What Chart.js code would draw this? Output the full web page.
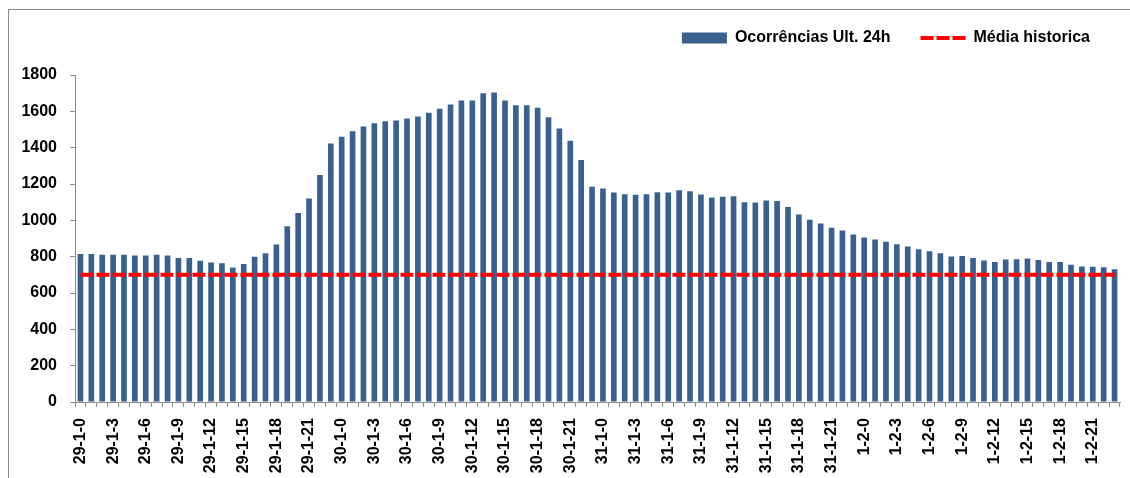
<!DOCTYPE html>
<html>
<head>
<meta charset="utf-8">
<title>Ocorrências Ult. 24h</title>
<script src="https://cdn.jsdelivr.net/npm/chart.js@4.4.0/dist/chart.umd.min.js"></script>
<style>
  body { margin: 0; background: #fff; }
  #wrap { position: relative; width: 1130px; height: 478px; }
  #moldura {
    position: absolute; left: 8px; top: 9px; right: 0; bottom: 0;
    border-top: 1px solid #8a8a8a; border-left: 1px solid #8a8a8a;
    pointer-events: none;
  }
</style>
</head>
<body>
<div id="wrap">
  <canvas id="grafico" width="1130" height="478"></canvas>
  <div id="moldura"></div>
</div>
<script>
// dias do período, uma barra por hora
const dias = ['29-1', '30-1', '31-1', '1-2'];
const categorias = [];
dias.forEach(d => {
  for (let h = 0; h < 24; h++) categorias.push(d + '-' + h);
});

const ocorrencias = [
  814, 814, 810, 810, 810, 806, 806, 810, 806, 793, 792, 777, 768, 764, 740, 759,
  799, 819, 867, 968, 1040, 1120, 1249, 1423,
  1460, 1491, 1517, 1535, 1545, 1550, 1561, 1572, 1592, 1614, 1637, 1659, 1659, 1699, 1704, 1660,
  1633, 1633, 1620, 1567, 1506, 1438, 1332, 1185,
  1175, 1153, 1144, 1141, 1144, 1155, 1153, 1166, 1160, 1142, 1126, 1130, 1133, 1100, 1098, 1109,
  1106, 1073, 1032, 1003, 983, 959, 944, 922,
  906, 894, 882, 869, 856, 841, 830, 819, 801, 804, 792, 779, 770, 784, 786, 790,
  781, 770, 770, 755, 746, 744, 742, 731
];

const mediaHistorica = 700;
const eixoY = [0, 200, 400, 600, 800, 1000, 1200, 1400, 1600, 1800];

const corBarra = '#3a6090';
const corMedia = '#ff0000';
const corEixo = '#8a8a8a';

Chart.defaults.font.family = '"Liberation Sans", Arial, sans-serif';
Chart.defaults.font.weight = 'bold';
Chart.defaults.font.size = 16;
Chart.defaults.color = '#000';

const ctx = document.getElementById('grafico').getContext('2d');
const grafico = new Chart(ctx, {
  type: 'bar',
  data: {
    labels: categorias,
    datasets: [
      {
        label: 'Ocorrências Ult. 24h',
        data: ocorrencias,
        backgroundColor: corBarra,
        categoryPercentage: 1,
        barPercentage: 0.52,
        order: 2
      },
      {
        type: 'line',
        label: 'Média historica',
        data: categorias.map(() => mediaHistorica),
        borderColor: corMedia,
        borderWidth: 4,
        borderDash: [13, 3],
        pointRadius: 0,
        fill: false,
        order: 1
      }
    ]
  },
  options: {
    responsive: false,
    animation: false,
    layout: { padding: { top: 0, right: 10, left: 0, bottom: 0 } },
    plugins: {
      tooltip: { enabled: false },
      // subtítulo vazio serve só de espaço entre a legenda e o gráfico
      subtitle: {
        display: true,
        text: '',
        weight: 500,
        font: { size: 10 },
        padding: { top: 0, bottom: 7 }
      },
      legend: {
        position: 'top',
        align: 'end',
        labels: {
          usePointStyle: true,
          pointStyleWidth: 45,
          boxHeight: 11,
          padding: 30,
          generateLabels: chart => {
            const [barras, linha] = chart.data.datasets;
            return [
              { text: barras.label, fillStyle: corBarra, strokeStyle: corBarra, lineWidth: 0,
                pointStyle: 'rect', datasetIndex: 0, hidden: false, fontColor: '#000' },
              { text: linha.label, fillStyle: corMedia, strokeStyle: corMedia, lineWidth: 4,
                lineDash: [13, 3], pointStyle: 'line', datasetIndex: 1, hidden: false, fontColor: '#000' }
            ];
          }
        }
      }
    },
    scales: {
      x: {
        grid: { drawOnChartArea: false, tickLength: 5, color: corEixo, offset: true },
        border: { color: corEixo },
        ticks: {
          autoSkip: false,
          minRotation: 90,
          maxRotation: 90,
          padding: 11,
          callback: (v, i) => (i % 3 === 0 ? categorias[i] : '')
        },
        afterFit: s => { s.height = 76; s.paddingLeft = 0; s.paddingRight = 0; }
      },
      y: {
        min: eixoY[0],
        max: eixoY[eixoY.length - 1],
        ticks: { stepSize: eixoY[1] - eixoY[0], padding: 13, callback: v => String(v) },
        grid: { drawOnChartArea: false, tickLength: 5, color: corEixo },
        border: { color: corEixo },
        afterFit: s => { s.width = 75; s.paddingTop = 75; }
      }
    }
  }
});
</script>
</body>
</html>
